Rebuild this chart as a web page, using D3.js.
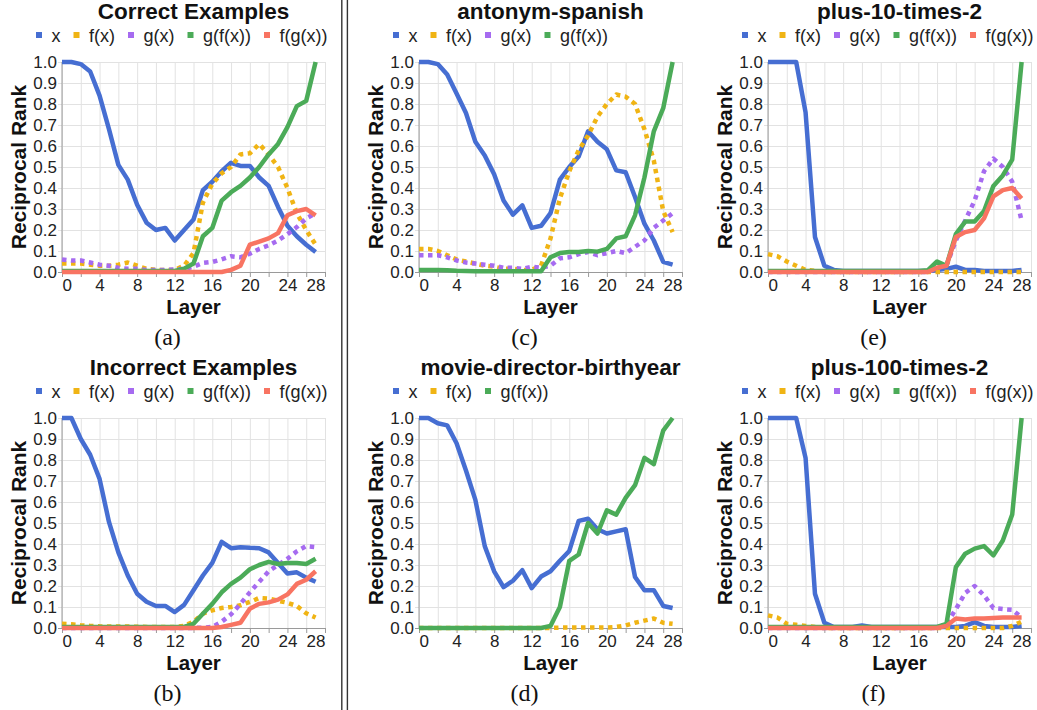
<!DOCTYPE html>
<html><head><meta charset="utf-8">
<script src="https://cdn.jsdelivr.net/npm/d3@7"></script>
<style>body{margin:0;background:#fff}svg{display:block}</style>
</head><body><svg id="chart" width="1037" height="710"></svg>
<script>
// ---------- data ----------
const layers = d3.range(28);
const yTicks = [0,0.1,0.2,0.3,0.4,0.5,0.6,0.7,0.8,0.9,1.0];
const xTickLabels = [0,4,8,12,16,20,24,28];
const xGrid = d3.range(0,29,2);

// (a) Correct Examples
const a_x   = [1.0,1.0,0.99,0.955,0.84,0.68,0.51,0.44,0.32,0.235,0.2,0.21,0.15,0.2,0.25,0.39,0.43,0.48,0.52,0.505,0.505,0.45,0.41,0.31,0.22,0.17,0.13,0.095];
const a_fx  = [0.04,0.04,0.04,0.035,0.03,0.03,0.035,0.045,0.03,0.015,0.01,0.01,0.01,0.03,0.09,0.33,0.42,0.47,0.5,0.56,0.565,0.61,0.56,0.5,0.4,0.28,0.2,0.13];
const a_gx  = [0.06,0.055,0.055,0.045,0.035,0.03,0.02,0.015,0.015,0.01,0.01,0.01,0.012,0.015,0.025,0.043,0.048,0.06,0.075,0.07,0.087,0.11,0.127,0.15,0.18,0.214,0.255,0.28];
const a_gfx = [0.005,0.005,0.005,0.005,0.005,0.005,0.005,0.005,0.005,0.005,0.005,0.005,0.005,0.016,0.04,0.17,0.21,0.34,0.38,0.41,0.45,0.5,0.56,0.61,0.69,0.79,0.815,1.0];
const a_fgx = [0,0,0,0,0,0,0,0,0,0,0,0,0,0,0,0,0,0,0.01,0.03,0.13,0.145,0.16,0.185,0.27,0.29,0.3,0.27];

// (b) Incorrect Examples
const b_x   = [1.0,1.0,0.9,0.825,0.71,0.505,0.36,0.25,0.163,0.125,0.105,0.105,0.076,0.11,0.18,0.25,0.31,0.41,0.38,0.385,0.382,0.38,0.36,0.31,0.26,0.265,0.24,0.22];
const b_fx  = [0.02,0.018,0.013,0.01,0.008,0.007,0.007,0.007,0.006,0.005,0.005,0.005,0.005,0.01,0.03,0.068,0.084,0.095,0.1,0.108,0.124,0.143,0.14,0.13,0.12,0.105,0.07,0.05];
const b_gx  = [0,0,0,0,0,0,0,0,0,0,0,0,0,0,0,0.002,0.005,0.03,0.065,0.115,0.17,0.22,0.27,0.3,0.33,0.365,0.39,0.385];
const b_gfx = [0.005,0.005,0.005,0.005,0.005,0.005,0.005,0.005,0.005,0.005,0.005,0.005,0.005,0.005,0.02,0.068,0.115,0.17,0.21,0.24,0.28,0.3,0.315,0.305,0.31,0.31,0.305,0.33];
const b_fgx = [0,0,0,0,0,0,0,0,0,0,0,0,0,0,0,0,0,0.005,0.015,0.025,0.092,0.115,0.122,0.135,0.16,0.21,0.23,0.27];

// (c) antonym-spanish
const c_x   = [1.0,1.0,0.99,0.94,0.85,0.757,0.62,0.555,0.465,0.34,0.273,0.317,0.21,0.22,0.28,0.44,0.5,0.55,0.67,0.62,0.584,0.484,0.475,0.357,0.23,0.15,0.048,0.035];
const c_fx  = [0.11,0.11,0.1,0.08,0.06,0.05,0.04,0.03,0.025,0.015,0.015,0.01,0.01,0.03,0.16,0.35,0.48,0.58,0.65,0.74,0.8,0.845,0.835,0.8,0.68,0.53,0.29,0.19];
const c_gx  = [0.08,0.08,0.08,0.07,0.055,0.045,0.04,0.035,0.03,0.02,0.02,0.015,0.025,0.02,0.03,0.065,0.07,0.085,0.095,0.08,0.09,0.1,0.09,0.12,0.15,0.21,0.245,0.28];
const c_gfx = [0.01,0.01,0.01,0.008,0.006,0.005,0.004,0.004,0.004,0.004,0.004,0.004,0.004,0.004,0.07,0.09,0.095,0.095,0.1,0.097,0.11,0.16,0.17,0.27,0.45,0.67,0.78,1.0];

// (d) movie-director-birthyear
const d_x   = [1.0,1.0,0.975,0.965,0.88,0.75,0.61,0.39,0.27,0.195,0.225,0.275,0.19,0.245,0.27,0.32,0.367,0.51,0.52,0.47,0.45,0.46,0.47,0.243,0.18,0.18,0.105,0.095];
const d_fx  = [0,0,0,0,0,0,0,0,0,0,0,0,0,0,0,0.002,0.002,0.002,0.002,0.002,0.002,0.005,0.012,0.025,0.035,0.045,0.025,0.02];
const d_gfx = [0,0,0,0,0,0,0,0,0,0,0,0,0,0,0.01,0.1,0.32,0.35,0.5,0.45,0.56,0.54,0.62,0.68,0.81,0.78,0.94,1.0];

// (e) plus-10-times-2
const e_x   = [1,1,1,1,0.76,0.167,0.03,0.01,0.005,0.005,0.005,0.005,0.005,0.005,0.005,0.005,0.005,0.005,0.01,0.015,0.025,0.01,0.01,0.005,0.005,0.005,0.005,0.01];
const e_fx  = [0.085,0.075,0.05,0.03,0.01,0.005,0,0,0,0,0,0,0,0,0,0,0,0,0,0,0,0,0,0,0,0,0,0];
const e_gx  = [0,0,0,0,0,0,0,0,0,0,0,0,0,0,0,0,0,0,0.02,0.03,0.15,0.246,0.34,0.48,0.54,0.5,0.43,0.245];
const e_gfx = [0.005,0.005,0.005,0.005,0.005,0.005,0.005,0.005,0.005,0.005,0.005,0.005,0.005,0.005,0.005,0.005,0.005,0.008,0.05,0.03,0.18,0.24,0.24,0.29,0.41,0.46,0.535,1.0];
const e_fgx = [0,0,0,0,0,0,0,0,0,0,0,0,0,0,0,0,0,0,0.02,0.03,0.167,0.19,0.2,0.255,0.36,0.39,0.4,0.35];

// (f) plus-100-times-2
const f_x   = [1,1,1,1,0.81,0.163,0.025,0.005,0.005,0.005,0.012,0.005,0.005,0.005,0.005,0.005,0.005,0.005,0.005,0.005,0.005,0.01,0.028,0.01,0.005,0.005,0.005,0.01];
const f_fx  = [0.06,0.05,0.02,0.015,0.01,0.005,0,0,0,0,0,0,0,0,0,0,0,0,0,0,0,0,0,0,0,0,0.01,0.03];
const f_gx  = [0,0,0,0,0,0,0,0,0,0,0,0,0,0,0,0,0,0,0,0.02,0.09,0.167,0.2,0.155,0.095,0.09,0.087,0.05];
const f_gfx = [0.005,0.005,0.005,0.005,0.005,0.005,0.005,0.005,0.005,0.005,0.005,0.005,0.005,0.005,0.005,0.005,0.005,0.005,0.005,0.02,0.29,0.354,0.378,0.39,0.346,0.417,0.54,1.0];
const f_fgx = [0,0,0,0,0,0,0,0,0,0,0,0,0,0,0,0,0,0,0,0.01,0.045,0.04,0.045,0.045,0.048,0.05,0.05,0.05];

// ---------- styles ----------
const style = {
  "x":       {color:"#466ed2", dotted:false},
  "f(x)":    {color:"#f0b414", dotted:true},
  "g(x)":    {color:"#a66bf0", dotted:true},
  "g(f(x))": {color:"#4bab58", dotted:false},
  "f(g(x))": {color:"#f87462", dotted:false}
};

const panels = [
  {cap:"(a)", title:"Correct Examples", left:62, top:62, series:[["x",a_x],["f(x)",a_fx],["g(x)",a_gx],["g(f(x))",a_gfx],["f(g(x))",a_fgx]]},
  {cap:"(b)", title:"Incorrect Examples", left:62, top:418, series:[["x",b_x],["f(x)",b_fx],["g(x)",b_gx],["g(f(x))",b_gfx],["f(g(x))",b_fgx]]},
  {cap:"(c)", title:"antonym-spanish", left:419, top:62, series:[["x",c_x],["f(x)",c_fx],["g(x)",c_gx],["g(f(x))",c_gfx]]},
  {cap:"(d)", title:"movie-director-birthyear", left:419, top:418, series:[["x",d_x],["f(x)",d_fx],["g(f(x))",d_gfx]]},
  {cap:"(e)", title:"plus-10-times-2", left:768, top:62, series:[["x",e_x],["f(x)",e_fx],["g(x)",e_gx],["g(f(x))",e_gfx],["f(g(x))",e_fgx]]},
  {cap:"(f)", title:"plus-100-times-2", left:768, top:418, series:[["x",f_x],["f(x)",f_fx],["g(x)",f_gx],["g(f(x))",f_gfx],["f(g(x))",f_fgx]]}
];

const W = 263, H = 210;
const SANS = "'Liberation Sans', Arial, sans-serif";
const SERIF = "'Liberation Serif', 'Times New Roman', serif";
const svg = d3.select("#chart");
svg.append("defs").append("clipPath").attr("id","legclip")
   .append("rect").attr("x",0).attr("y",0).attr("width",1033).attr("height",710);

// divider
[341.8, 347.4].forEach(x => svg.append("line").attr("x1",x).attr("x2",x).attr("y1",0).attr("y2",710)
   .attr("stroke","#333").attr("stroke-width",1.4));

panels.forEach(p => {
  const xs = d3.scaleLinear().domain([0,28]).range([0,W]);
  const ys = d3.scaleLinear().domain([0,1]).range([H,0]);
  const g = svg.append("g").attr("transform",`translate(${p.left},${p.top})`);

  // vertical grid
  g.append("g").call(d3.axisBottom(xs).tickValues(xGrid).tickSize(H).tickFormat(""))
    .call(s => { s.select(".domain").remove(); s.selectAll("line").attr("stroke","#e2e2e2"); });
  // horizontal grid + y labels
  const ya = g.append("g").call(d3.axisLeft(ys).tickValues(yTicks).tickFormat(d3.format(".1f")).tickSize(0).tickPadding(5));
  ya.select(".domain").remove();
  ya.selectAll(".tick line").attr("x1",-4).attr("x2",W).attr("stroke",d=>d===0?"#9a9a9a":"#e2e2e2");
  ya.selectAll(".tick text").attr("font-family",SANS).attr("font-size",17).attr("fill","#222");
  // left axis line
  g.append("line").attr("x1",0).attr("x2",0).attr("y1",0).attr("y2",H).attr("stroke","#9a9a9a");
  // bottom axis with ticks
  const xa = g.append("g").attr("transform",`translate(0,${H})`)
    .call(d3.axisBottom(xs).tickValues(xGrid).tickSize(5).tickPadding(2).tickSizeOuter(0)
      .tickFormat(d => xTickLabels.includes(d) ? d : ""));
  xa.select(".domain").attr("stroke","#9a9a9a");
  xa.selectAll(".tick line").attr("stroke","#9a9a9a");
  xa.selectAll(".tick text").attr("font-family",SANS).attr("font-size",17).attr("fill","#222")
    .attr("text-anchor", d => d===0 ? "start" : (d===28 ? "end" : "middle"));

  // lines
  p.series.forEach(([name, vals]) => {
    const st = style[name];
    const line = d3.line().x((d,i)=>xs(layers[i])).y(d=>ys(d));
    g.append("path").datum(vals).attr("d",line).attr("fill","none")
      .attr("stroke",st.color).attr("stroke-width",4.5)
      .attr("stroke-linejoin","round").attr("stroke-linecap","butt")
      .attr("stroke-dasharray", st.dotted ? "4.5,4.5" : null);
  });

  // title
  svg.append("text").attr("x",p.left+W/2).attr("y",p.top-43).attr("text-anchor","middle")
    .attr("font-family",SANS).attr("font-weight","bold").attr("font-size",22.5).attr("fill","#111").text(p.title);
  // legend
  const leg = svg.append("g").attr("clip-path","url(#legclip)");
  let cx = p.left - 23;
  p.series.forEach(([name]) => {
    leg.append("rect").attr("x",cx-3).attr("y",p.top-30).attr("width",6).attr("height",6).attr("fill",style[name].color);
    const t = leg.append("text").attr("x",cx+12.5).attr("y",p.top-20.5)
      .attr("font-family",SANS).attr("font-size",18).attr("fill","#222").text(name);
    cx = cx + 12.5 + t.node().getComputedTextLength() + 16;
  });
  // axis titles
  svg.append("text").attr("transform",`translate(${p.left-36},${p.top+H/2}) rotate(-90)`).attr("text-anchor","middle")
    .attr("font-family",SANS).attr("font-weight","bold").attr("font-size",21).attr("fill","#111").text("Reciprocal Rank");
  svg.append("text").attr("x",p.left+W/2).attr("y",p.top+H+42).attr("text-anchor","middle")
    .attr("font-family",SANS).attr("font-weight","bold").attr("font-size",20.5).attr("fill","#111").text("Layer");
  // caption
  svg.append("text").attr("x",p.left+W/2-26).attr("y",p.top+H+73).attr("text-anchor","middle")
    .attr("font-family",SERIF).attr("font-size",24).attr("fill","#111").text(p.cap);
});
</script></body></html>
